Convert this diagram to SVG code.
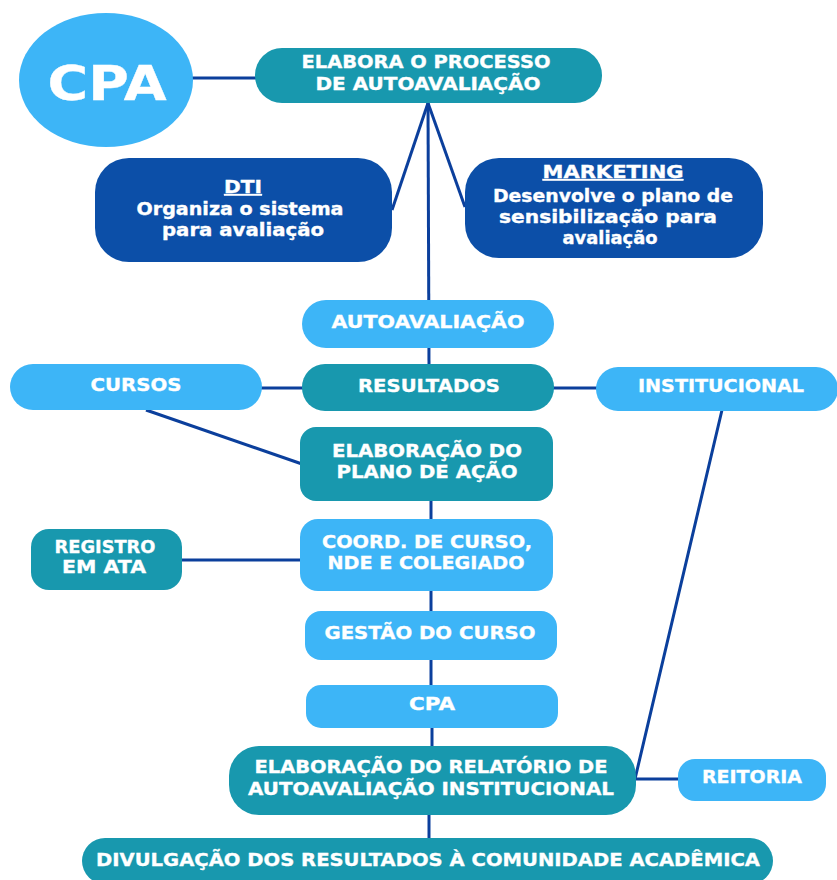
<svg xmlns="http://www.w3.org/2000/svg" width="837" height="880" viewBox="0 0 837 880">
<style>
.lb{fill:#3db5f7}
.tl{fill:#1898ae}
.db{fill:#0c4fa8}
text{font-family:"DejaVu Sans","Liberation Sans",sans-serif;font-weight:700;fill:#fff;stroke:#fff;stroke-width:0.35;text-anchor:middle}
.t{font-size:18px}
.s{font-size:17px}
.c{stroke:#0b3f9c;stroke-width:3;fill:none}
</style>
<rect width="837" height="880" fill="#fff"/>
<g id="connectors">
<line class="c" x1="192" y1="78" x2="258" y2="78"/>
<line class="c" x1="428" y1="103" x2="392" y2="210"/>
<line class="c" x1="428" y1="103" x2="465" y2="207"/>
<line class="c" x1="428" y1="103" x2="429" y2="366"/>
<line class="c" x1="260" y1="388" x2="304" y2="388"/>
<line class="c" x1="552" y1="388" x2="598" y2="388"/>
<line class="c" x1="146" y1="410" x2="302" y2="464"/>
<line class="c" x1="431" y1="499" x2="431" y2="521"/>
<line class="c" x1="180" y1="560" x2="302" y2="560"/>
<line class="c" x1="431" y1="590" x2="431" y2="613"/>
<line class="c" x1="431" y1="658" x2="431" y2="687"/>
<line class="c" x1="432" y1="726" x2="432" y2="748"/>
<polyline class="c" points="722,410 635,779 680,779"/>
<line class="c" x1="429" y1="813" x2="429" y2="840"/>
</g>
<g id="cpa-circle">
<ellipse class="lb" cx="106" cy="80" rx="87" ry="67"/>
<text x="107" y="100" style="font-size:48px" textLength="119" lengthAdjust="spacingAndGlyphs">CPA</text>
</g>
<g id="elabora">
<rect class="tl" x="255" y="48" width="347" height="55" rx="27"/>
<text class="t" x="426" y="68" textLength="249" lengthAdjust="spacingAndGlyphs">ELABORA O PROCESSO</text>
<text class="t" x="428" y="90" textLength="225" lengthAdjust="spacingAndGlyphs">DE AUTOAVALIAÇÃO</text>
</g>
<g id="dti">
<rect class="db" x="95" y="158" width="297" height="104" rx="34"/>
<text class="s" x="243" y="193" text-decoration="underline" textLength="38" lengthAdjust="spacingAndGlyphs">DTI</text>
<text class="s" x="240" y="215" textLength="207" lengthAdjust="spacingAndGlyphs">Organiza o sistema</text>
<text class="s" x="243" y="236" textLength="162" lengthAdjust="spacingAndGlyphs">para avaliação</text>
</g>
<g id="marketing">
<rect class="db" x="465" y="158" width="298" height="100" rx="34"/>
<text class="s" x="613" y="178" text-decoration="underline" textLength="141" lengthAdjust="spacingAndGlyphs">MARKETING</text>
<text class="s" x="613" y="202" textLength="240" lengthAdjust="spacingAndGlyphs">Desenvolve o plano de</text>
<text class="s" x="608" y="223" textLength="218" lengthAdjust="spacingAndGlyphs">sensibilização para</text>
<text class="s" x="610" y="244" textLength="95" lengthAdjust="spacingAndGlyphs">avaliação</text>
</g>
<g id="autoavaliacao">
<rect class="lb" x="302" y="300" width="252" height="48" rx="24"/>
<text class="t" x="428" y="328" textLength="193" lengthAdjust="spacingAndGlyphs">AUTOAVALIAÇÃO</text>
</g>
<g id="resultados">
<rect class="tl" x="302" y="364" width="252" height="47" rx="23"/>
<text class="t" x="429" y="392" textLength="142" lengthAdjust="spacingAndGlyphs">RESULTADOS</text>
</g>
<g id="cursos">
<rect class="lb" x="10" y="364" width="252" height="46" rx="23"/>
<text class="t" x="136" y="391" textLength="91" lengthAdjust="spacingAndGlyphs">CURSOS</text>
</g>
<g id="institucional">
<rect class="lb" x="596" y="367" width="242" height="44" rx="22"/>
<text class="t" x="721" y="392" textLength="166" lengthAdjust="spacingAndGlyphs">INSTITUCIONAL</text>
</g>
<g id="plano-acao">
<rect class="tl" x="300" y="427" width="253" height="74" rx="16"/>
<text class="t" x="427" y="457" textLength="190" lengthAdjust="spacingAndGlyphs">ELABORAÇÃO DO</text>
<text class="t" x="427" y="478" textLength="181" lengthAdjust="spacingAndGlyphs">PLANO DE AÇÃO</text>
</g>
<g id="registro">
<rect class="tl" x="31" y="529" width="151" height="61" rx="18"/>
<text class="t" x="105" y="553" textLength="101" lengthAdjust="spacingAndGlyphs">REGISTRO</text>
<text class="t" x="104" y="573" textLength="84" lengthAdjust="spacingAndGlyphs">EM ATA</text>
</g>
<g id="coord">
<rect class="lb" x="300" y="519" width="253" height="72" rx="18"/>
<text class="t" x="427" y="548" textLength="210" lengthAdjust="spacingAndGlyphs">COORD. DE CURSO,</text>
<text class="t" x="426" y="569" textLength="197" lengthAdjust="spacingAndGlyphs">NDE E COLEGIADO</text>
</g>
<g id="gestao">
<rect class="lb" x="305" y="611" width="252" height="49" rx="16"/>
<text class="t" x="430" y="639" textLength="211" lengthAdjust="spacingAndGlyphs">GESTÃO DO CURSO</text>
</g>
<g id="cpa-box">
<rect class="lb" x="306" y="685" width="252" height="43" rx="15"/>
<text class="t" x="432" y="710" textLength="46" lengthAdjust="spacingAndGlyphs">CPA</text>
</g>
<g id="relatorio">
<rect class="tl" x="229" y="746" width="407" height="69" rx="30"/>
<text class="t" x="431" y="773" textLength="353" lengthAdjust="spacingAndGlyphs">ELABORAÇÃO DO RELATÓRIO DE</text>
<text class="t" x="431" y="795" textLength="366" lengthAdjust="spacingAndGlyphs">AUTOAVALIAÇÃO INSTITUCIONAL</text>
</g>
<g id="reitoria">
<rect class="lb" x="678" y="759" width="148" height="42" rx="17"/>
<text class="t" x="752" y="783" textLength="100" lengthAdjust="spacingAndGlyphs">REITORIA</text>
</g>
<g id="divulgacao">
<rect class="tl" x="82" y="838" width="691" height="46" rx="23"/>
<text class="t" x="428" y="866" textLength="664" lengthAdjust="spacingAndGlyphs">DIVULGAÇÃO DOS RESULTADOS À COMUNIDADE ACADÊMICA</text>
</g>
</svg>
